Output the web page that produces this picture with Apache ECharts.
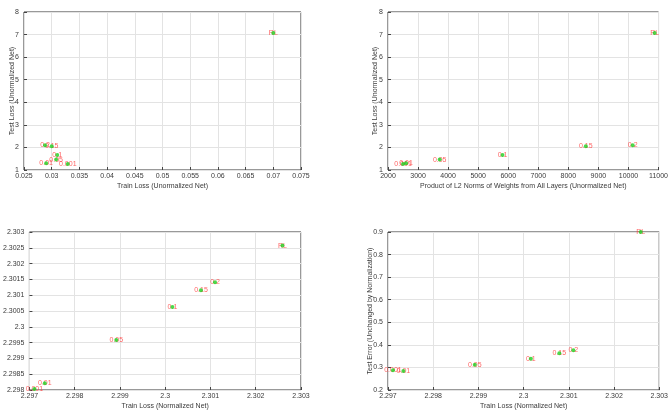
<!DOCTYPE html>
<html>
<head>
<meta charset="utf-8">
<script src="https://cdn.jsdelivr.net/npm/echarts@6/dist/echarts.min.js"></script>
<style>
  html, body { margin: 0; padding: 0; background: #fff; }
  #chart { width: 671px; height: 411px; }
</style>
</head>
<body>
<div id="chart"></div>
<script>
// point labels (regularization / random labels)
var pointLabels = ['0.001', '0.01', '0.05', '0.1', '0.15', '0.2', 'RL'];

// unnormalized net
var trainLossUnorm = [0.0329, 0.0290, 0.0308, 0.0310, 0.0300, 0.0288, 0.0700];
var testLossUnorm = [1.27, 1.30, 1.46, 1.66, 2.05, 2.10, 7.07];
var normProduct = [2500, 2600, 3720, 5810, 8580, 10140, 10870];

// normalized net
var trainLossNorm = [2.29711, 2.29734, 2.29892, 2.30016, 2.30079, 2.30110, 2.30259];
var testLossNorm = [2.29803, 2.29821, 2.29958, 2.30063, 2.30116, 2.30141, 2.30257];
var testError = [0.288, 0.284, 0.312, 0.338, 0.363, 0.376, 0.900];

var chart = echarts.init(document.getElementById('chart'));
var FONT = 'Liberation Sans';
var TXT = '#3a3a3a';

function fmt(v) {
  return String(+v.toFixed(5));
}

function pairs(xs, ys) {
  return xs.map(function (x, i) {
    return { value: [x, ys[i]], name: pointLabels[i] };
  });
}

function xAxis(grid, min, max, interval, name) {
  return {
    type: 'value', gridIndex: grid, min: min, max: max, interval: interval,
    name: name, nameLocation: 'middle', nameGap: 13,
    nameTextStyle: { fontFamily: FONT, fontSize: 7, color: TXT },
    axisLine: { show: false },
    axisTick: { show: true, inside: true, length: 3, lineStyle: { color: '#444' } },
    axisLabel: { fontFamily: FONT, fontSize: 7, color: TXT, margin: 3, formatter: fmt },
    splitLine: { show: true, lineStyle: { color: '#e3e3e3', width: 1 } }
  };
}

function yAxis(grid, min, max, interval, name, gap) {
  return {
    type: 'value', gridIndex: grid, min: min, max: max, interval: interval,
    name: name, nameLocation: 'middle', nameGap: gap, nameMoveOverlap: false,
    nameTextStyle: { fontFamily: FONT, fontSize: 7, color: TXT },
    axisLine: { show: false },
    axisTick: { show: true, inside: true, length: 3, lineStyle: { color: '#444' } },
    axisLabel: { fontFamily: FONT, fontSize: 7, color: TXT, margin: 5, formatter: fmt },
    splitLine: { show: true, lineStyle: { color: '#e3e3e3', width: 1 } }
  };
}

function panel(idx, data) {
  return [{
    type: 'scatter', xAxisIndex: idx, yAxisIndex: idx, z: 2,
    symbolSize: 1, itemStyle: { color: 'rgba(0,0,0,0)' },
    label: {
      show: true, position: 'inside', formatter: '{b}',
      fontFamily: FONT, fontSize: 7, color: '#ff3b3b'
    },
    data: data, silent: true, animation: false
  }, {
    type: 'scatter', xAxisIndex: idx, yAxisIndex: idx, z: 5,
    symbol: 'circle', symbolSize: 4, itemStyle: { color: '#1ed01e' },
    data: data, animation: false
  }];
}

var gridBox = { show: true, borderColor: '#333', borderWidth: 1, backgroundColor: '#fff' };

var option = {
  backgroundColor: '#fff',
  grid: [
    Object.assign({ left: 24, top: 12, width: 277, height: 158 }, gridBox),
    Object.assign({ left: 388, top: 12, width: 276, height: 158 }, gridBox),
    Object.assign({ left: 24, top: 232, width: 277, height: 158 }, gridBox),
    Object.assign({ left: 388, top: 232, width: 276, height: 159 }, gridBox)
  ],
  xAxis: [
    xAxis(0, 0.025, 0.075, 0.005, 'Train Loss (Unormalized Net)'),
    xAxis(1, 2000, 11000, 1000, 'Product of L2 Norms of Weights from All Layers (Unormalized Net)'),
    xAxis(2, 2.297, 2.303, 0.001, 'Train Loss (Normalized Net)'),
    xAxis(3, 2.297, 2.303, 0.001, 'Train Loss (Normalized Net)')
  ],
  yAxis: [
    yAxis(0, 1, 8, 1, 'Test Loss (Unormalized Net)', 8),
    yAxis(1, 1, 8, 1, 'Test Loss (Unormalized Net)', 9),
    yAxis(2, 2.298, 2.303, 0.0005, '', 10),
    yAxis(3, 0.2, 0.9, 0.1, 'Test Error (Unchanged by Normalization)', 14)
  ],
  series: [].concat(
    panel(0, pairs(trainLossUnorm, testLossUnorm)),
    panel(1, pairs(normProduct, testLossUnorm)),
    panel(2, pairs(trainLossNorm, testLossNorm)),
    panel(3, pairs(trainLossNorm, testError))
  )
};

chart.setOption(option);
</script>
</body>
</html>
